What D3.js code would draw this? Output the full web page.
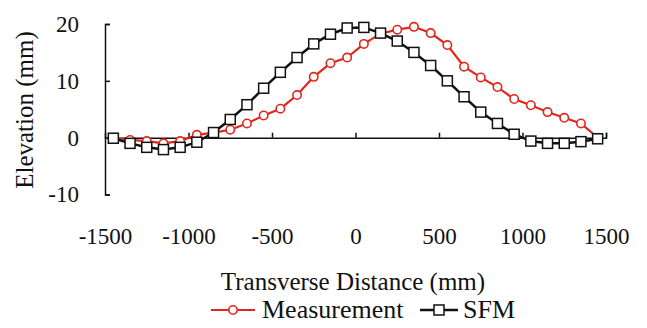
<!DOCTYPE html>
<html>
<head>
<meta charset="utf-8">
<script src="https://cdn.jsdelivr.net/npm/d3@7"></script>
<style>
  body { margin: 0; background: #fff; }
  text { font-family: "Liberation Serif", "Times New Roman", serif; fill: #111; }
</style>
</head>
<body>
<div id="graph"></div>
<script>
// transverse positions (mm), shared by both series
const distance = [-1450, -1350, -1250, -1150, -1050, -950, -850, -750, -650, -550,
  -450, -350, -250, -150, -50, 50, 150, 250, 350, 450,
  550, 650, 750, 850, 950, 1050, 1150, 1250, 1350, 1450];

const measurement = [0, -0.4, -0.6, -1.0, -0.6, 0.5, 0.9, 1.4, 2.5, 3.9,
  5.1, 7.5, 10.7, 13.1, 14.1, 16.5, 18.3, 19.0, 19.5, 18.4,
  16.3, 12.5, 10.6, 8.9, 6.8, 5.7, 4.5, 3.5, 2.5, 0];

const sfm = [-0.1, -1.0, -1.7, -2.1, -1.7, -0.8, 0.9, 3.2, 5.8, 8.7,
  11.5, 14.1, 16.5, 18.2, 19.3, 19.4, 18.4, 17.0, 15.0, 12.7,
  10.0, 7.2, 4.5, 2.5, 0.6, -0.6, -1.0, -1.0, -0.7, -0.2];

const xTicks = [-1500, -1000, -500, 0, 500, 1000, 1500];
const yTicks = [-10, 0, 10, 20];

const width = 647, height = 328;
const red = "#e3261d";
const plain = d => String(d); // hyphen minus, no thousands comma

const svg = d3.select("#graph").append("svg")
  .attr("width", width).attr("height", height);
svg.append("rect").attr("width", width).attr("height", height).attr("fill", "#fff");

const x = d3.scaleLinear().domain([-1500, 1500]).range([105, 606]);
const y = d3.scaleLinear().domain([-10, 20]).range([194.5, 24]);

// y axis, ticks point inward
const yAxis = svg.append("g")
  .attr("transform", "translate(" + x(-1500) + ",0)")
  .call(d3.axisLeft(y).tickValues(yTicks).tickFormat(plain).tickSize(-5).tickSizeOuter(-5).tickPadding(26));
yAxis.selectAll("text").style("font-size", "23px");

// x axis along zero, ticks up
svg.append("g")
  .attr("transform", "translate(0," + y(0) + ")")
  .call(d3.axisBottom(x).tickValues(xTicks.slice(1)).tickSize(-5).tickSizeOuter(-5).tickFormat(""));

// x tick labels sit below the plot
const xLabels = svg.append("g")
  .attr("transform", "translate(0,228)")
  .call(d3.axisBottom(x).tickValues(xTicks).tickFormat(plain).tickSize(0).tickPadding(0));
xLabels.select(".domain").remove();
xLabels.selectAll("text").style("font-size", "23px");

svg.selectAll(".domain, .tick line").attr("stroke", "#111").attr("stroke-width", 1.5);

// titles
svg.append("text")
  .attr("transform", "translate(33,110) rotate(-90)")
  .attr("text-anchor", "middle")
  .style("font-size", "25px")
  .text("Elevation (mm)");

svg.append("text")
  .attr("x", 353).attr("y", 290)
  .attr("text-anchor", "middle")
  .style("font-size", "25px")
  .text("Transverse Distance (mm)");

const line = d3.line().x((d, i) => x(distance[i])).y(d => y(d));

function circleMark(g, cx, cy) {
  g.append("circle").attr("cx", cx).attr("cy", cy).attr("r", 4.2)
    .attr("fill", "#fff").attr("stroke", red).attr("stroke-width", 1.6);
}
function squareMark(g, cx, cy) {
  g.append("rect").attr("x", cx - 5).attr("y", cy - 5).attr("width", 10).attr("height", 10)
    .attr("fill", "#fff").attr("stroke", "#111").attr("stroke-width", 1.5);
}

// Measurement
svg.append("path").datum(measurement)
  .attr("fill", "none").attr("stroke", red).attr("stroke-width", 2.2)
  .attr("d", line);
const mg = svg.append("g");
measurement.forEach((v, i) => circleMark(mg, x(distance[i]), y(v)));

// SFM
svg.append("path").datum(sfm)
  .attr("fill", "none").attr("stroke", "#111").attr("stroke-width", 2.5)
  .attr("d", line);
const sg = svg.append("g");
sfm.forEach((v, i) => squareMark(sg, x(distance[i]), y(v)));

// legend
const leg = svg.append("g");
leg.append("line").attr("x1", 211).attr("x2", 255).attr("y1", 310).attr("y2", 310)
  .attr("stroke", red).attr("stroke-width", 2.2);
circleMark(leg, 233, 310);
leg.append("text").attr("x", 262).attr("y", 318).style("font-size", "26px").text("Measurement");
leg.append("line").attr("x1", 420).attr("x2", 458).attr("y1", 310).attr("y2", 310)
  .attr("stroke", "#111").attr("stroke-width", 2.5);
squareMark(leg, 439, 310);
leg.append("text").attr("x", 463).attr("y", 318).style("font-size", "26px").text("SFM");
</script>
</body>
</html>
